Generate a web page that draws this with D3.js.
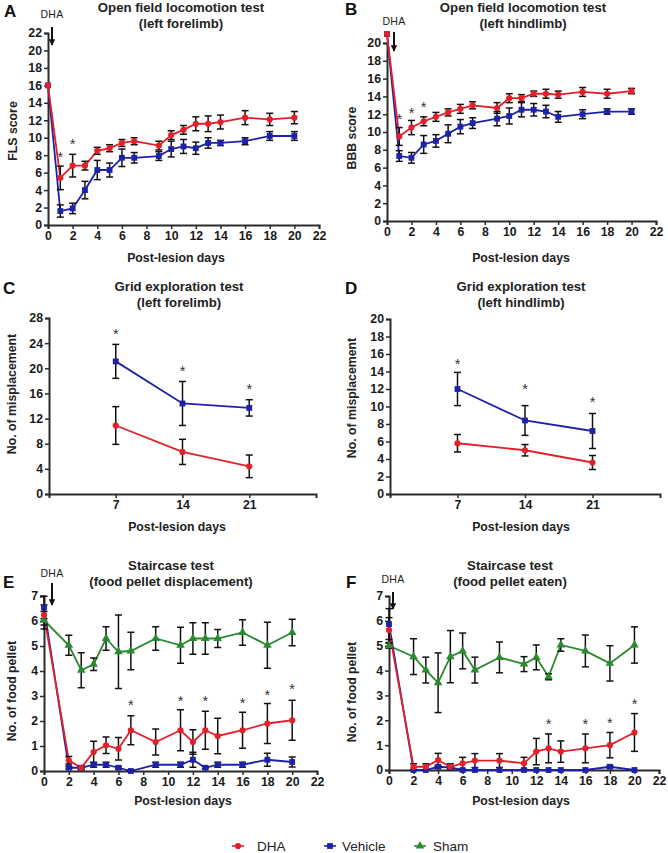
<!DOCTYPE html>
<html><head><meta charset="utf-8">
<script src="https://cdn.jsdelivr.net/npm/d3@7/dist/d3.min.js"></script>
<style>
body{margin:0;background:#fff;}
svg{display:block;font-family:"Liberation Sans",Arial,Helvetica,sans-serif;}
</style></head><body>
<svg id="chart" width="668" height="853"></svg>
<script>
// ---------------- DATA ----------------
const seriesNames = ["DHA", "Vehicle", "Sham"];

// Open field locomotion (A, B)
const daysOF = [0,1,2,3,4,5,6,7,9,10,11,12,13,14,16,18,20];
const A_dha    = [16,5.4,6.8,6.8,8.5,8.8,9.4,9.6,9.1,10.3,10.9,11.6,11.6,11.8,12.3,12.1,12.3];
const A_dhaErr = [0,1.35,1.3,0.5,0.4,0.4,0.4,0.4,0.5,0.5,0.5,0.8,0.9,0.8,0.8,0.7,0.7];
const A_veh    = [16,1.6,1.9,4.0,6.3,6.3,7.7,7.7,7.9,8.7,9.0,8.8,9.4,9.4,9.6,10.2,10.2];
const A_vehErr = [0,0.7,0.6,1.0,1.1,0.8,1.0,0.6,0.5,0.9,0.8,0.7,0.6,0.3,0.4,0.5,0.5];
const A_starDays = [1,2];
const A_starY    = [8.05,9.6];

const B_dha    = [21,9.5,10.5,11.2,11.7,12.2,12.6,13.0,12.7,13.8,13.8,14.3,14.3,14.2,14.5,14.3,14.6];
const B_dhaErr = [0,1.0,0.8,0.5,0.5,0.4,0.5,0.4,0.6,0.5,0.4,0.3,0.5,0.4,0.5,0.5,0.3];
const B_veh    = [21,7.3,7.1,8.6,9.0,9.8,10.6,11.0,11.5,11.8,12.5,12.5,12.3,11.7,12.0,12.3,12.3];
const B_vehErr = [0,0.6,0.6,1.0,0.7,1.0,0.8,0.6,0.8,0.9,0.8,0.7,0.7,0.6,0.5,0.3,0.3];
const B_starDays = [1,2,3];
const B_starY    = [11.7,12.45,13.1];

// Grid exploration (C, D)
const daysGrid = [7,14,21];
const C_dha    = [10.9,6.7,4.4];
const C_dhaErr = [3.0,2.0,1.8];
const C_veh    = [21.1,14.4,13.7];
const C_vehErr = [2.7,3.5,1.3];
const C_starY  = [25.9,19.9,17.1];

const D_dha    = [5.8,5.0,3.6];
const D_dhaErr = [1.0,0.65,0.8];
const D_veh    = [12.0,8.4,7.2];
const D_vehErr = [1.9,1.7,2.0];
const D_starY  = [15.2,12.3,10.8];

// Staircase (E, F)
const daysSC = [0,2,3,4,5,6,7,9,11,12,13,14,16,18,20];
const E_dha     = [6.24,0.43,0.13,0.76,1.03,0.89,1.63,1.16,1.63,1.16,1.63,1.4,1.63,1.9,2.03];
const E_dhaErr  = [0.4,0.15,0.08,0.43,0.33,0.45,0.58,0.52,0.82,0.49,0.76,0.71,0.72,0.8,0.8];
const E_veh     = [6.54,0.13,0.13,0.25,0.25,0.13,0.0,0.25,0.25,0.45,0.13,0.25,0.25,0.45,0.36];
const E_vehErr  = [0.45,0.05,0.05,0.1,0.1,0.05,0.03,0.1,0.1,0.3,0.05,0.1,0.1,0.26,0.2];
const E_sham    = [6.03,5.03,4.03,4.27,5.3,4.77,4.8,5.3,5.03,5.3,5.3,5.3,5.54,5.03,5.54];
const E_shamErr = [0.35,0.4,0.7,0.25,0.47,1.47,0.75,0.47,0.72,0.63,0.63,0.36,0.51,0.92,0.53];
const E_starDays = [7,11,13,16,18,20];
const E_starY    = [2.76,2.9,2.9,2.83,3.16,3.4];

const F_dha     = [5.63,0.13,0.13,0.4,0.13,0.27,0.38,0.38,0.27,0.74,0.87,0.74,0.87,1.0,1.51];
const F_dhaErr  = [0.5,0.12,0.12,0.27,0.12,0.24,0.28,0.28,0.24,0.53,0.58,0.43,0.58,0.51,0.76];
const F_veh     = [5.87,0,0,0.13,0.1,0,0,0,0,0,0,0,0,0.13,0];
const F_vehErr  = [0.62,0,0,0.05,0.03,0,0,0,0,0,0,0,0,0.05,0];
const F_sham    = [5.0,4.56,4.02,3.51,4.56,4.79,4.02,4.53,4.26,4.53,3.75,5.03,4.79,4.29,5.03];
const F_shamErr = [0.1,0.72,0.52,1.2,1.05,0.72,0.52,0.62,0.3,0.5,0.12,0.25,0.64,0.71,0.73];
const F_starDays = [13,16,18,20];
const F_starY    = [1.94,1.94,1.98,2.77];

// Tick labels
const xTicksDays = [0,2,4,6,8,10,12,14,16,18,20,22];
const yTicksA = [0,2,4,6,8,10,12,14,16,18,20,22];
const yTicksB = [0,2,4,6,8,10,12,14,16,18,20];
const yTicksC = [0,4,8,12,16,20,24,28];
const yTicksD = [0,2,4,6,8,10,12,14,16,18,20];
const yTicksEF = [0,1,2,3,4,5,6,7];
const xTicksGrid = [7,14,21];

// ---------------- STYLE ----------------
const colors = {DHA:"#e3202a", Vehicle:"#1d22a8", Sham:"#2a8a2f"};
const symbols = {DHA:d3.symbolCircle, Vehicle:d3.symbolSquare, Sham:d3.symbolTriangle};
const symSize = {DHA:30, Vehicle:34, Sham:32};
const axisColor = "#2b2b2b";

const svg = d3.select("#chart");

const panels = [
  {letter:"A", lx:4, ly:17, x0:48, x1:319, yb:225, yt:33, xDom:[0,22], yDom:[0,22],
   xTicks:xTicksDays, yTicks:yTicksA, days:daysOF,
   series:[["Vehicle",A_veh,A_vehErr],["DHA",A_dha,A_dhaErr]],
   starDays:A_starDays, starY:A_starY,
   title:["Open field locomotion test","(left forelimb)"], tx:181, ty:[12,28],
   ylab:"FLS score", ylx:13, yly:131, xlabX:176, xlabY:262,
   dha:{x:52, ty:18, a0:27, a1:45}},
  {letter:"B", lx:345, ly:15, x0:387, x1:656, yb:221, yt:43, xDom:[0,22], yDom:[0,20],
   xTicks:xTicksDays, yTicks:yTicksB, days:daysOF,
   series:[["Vehicle",B_veh,B_vehErr],["DHA",B_dha,B_dhaErr]],
   starDays:B_starDays, starY:B_starY,
   title:["Open field locomotion test","(left hindlimb)"], tx:523, ty:[12,28],
   ylab:"BBB score", ylx:352, yly:138, xlabX:521, xlabY:262,
   dha:{x:394, ty:25, a0:32, a1:51}},
  {letter:"C", lx:3, ly:294, x0:49, x1:316, yb:494, yt:318, xDom:[0,28], yDom:[0,28],
   xTicks:xTicksGrid, yTicks:yTicksC, days:daysGrid,
   series:[["Vehicle",C_veh,C_vehErr],["DHA",C_dha,C_dhaErr]],
   starDays:daysGrid, starY:C_starY,
   title:["Grid exploration test","(left forelimb)"], tx:179, ty:[291,307],
   ylab:"No. of misplacement", ylx:12, yly:394, xlabX:177, xlabY:531},
  {letter:"D", lx:345, ly:294, x0:390, x1:660, yb:494, yt:319, xDom:[0,28], yDom:[0,20],
   xTicks:xTicksGrid, yTicks:yTicksD, days:daysGrid,
   series:[["Vehicle",D_veh,D_vehErr],["DHA",D_dha,D_dhaErr]],
   starDays:daysGrid, starY:D_starY,
   title:["Grid exploration test","(left hindlimb)"], tx:521, ty:[291,307],
   ylab:"No. of misplacement", ylx:352, yly:398, xlabX:521, xlabY:531},
  {letter:"E", lx:3, ly:588, x0:44, x1:317, yb:771, yt:596, xDom:[0,22], yDom:[0,7],
   xTicks:xTicksDays, yTicks:yTicksEF, days:daysSC,
   series:[["Sham",E_sham,E_shamErr],["Vehicle",E_veh,E_vehErr],["DHA",E_dha,E_dhaErr]],
   starDays:E_starDays, starY:E_starY,
   title:["Staircase test","(food pellet displacement)"], tx:171, ty:[570,586],
   ylab:"No. of food pellet", ylx:12, yly:691, xlabX:183, xlabY:805,
   dha:{x:52, ty:577, a0:583, a1:605}},
  {letter:"F", lx:346, ly:588, x0:389, x1:659, yb:770, yt:596, xDom:[0,22], yDom:[0,7],
   xTicks:xTicksDays, yTicks:yTicksEF, days:daysSC,
   series:[["Sham",F_sham,F_shamErr],["Vehicle",F_veh,F_vehErr],["DHA",F_dha,F_dhaErr]],
   starDays:F_starDays, starY:F_starY,
   title:["Staircase test","(food pellet eaten)"], tx:510, ty:[570,586],
   ylab:"No. of food pellet", ylx:352, yly:692, xlabX:521, xlabY:805,
   dha:{x:393, ty:583, a0:592, a1:609}}
];

svg.append("defs").append("marker")
  .attr("id","arrowhead").attr("viewBox","0 0 10 10").attr("refX",9).attr("refY",5)
  .attr("markerWidth",3.2).attr("markerHeight",3.2).attr("orient","auto")
  .append("path").attr("d","M0,0 L10,5 L0,10 z").attr("fill","#111");

panels.forEach(p => {
  const g = svg.append("g");
  const x = d3.scaleLinear().domain(p.xDom).range([p.x0, p.x1]);
  const y = d3.scaleLinear().domain(p.yDom).range([p.yb, p.yt]);

  // Letter
  g.append("text").attr("x",p.lx).attr("y",p.ly).text(p.letter)
    .attr("font-size",17).attr("font-weight","bold").attr("fill","#111");
  // Title
  p.title.forEach((t,i) => g.append("text").attr("x",p.tx).attr("y",p.ty[i])
    .attr("text-anchor","middle").attr("font-size",13.2).attr("font-weight","bold")
    .attr("fill","#222").text(t));

  // Axes
  const xa = g.append("g").attr("transform",`translate(0,${p.yb})`)
    .call(d3.axisBottom(x).tickValues(p.xTicks).tickFormat(d3.format("d")).tickSize(4).tickPadding(2));
  const ya = g.append("g").attr("transform",`translate(${p.x0},0)`)
    .call(d3.axisLeft(y).tickValues(p.yTicks).tickFormat(d3.format("d")).tickSize(4).tickPadding(2));
  [xa,ya].forEach(a => {
    a.select(".domain").attr("stroke",axisColor).attr("stroke-width",2);
    a.selectAll(".tick line").attr("stroke",axisColor).attr("stroke-width",1.5);
    a.selectAll(".tick text").attr("font-size",12.3).attr("font-weight","bold").attr("fill","#1a1a1a")
      .attr("font-family","'Liberation Sans',Arial,sans-serif");
  });
  // x axis label
  g.append("text").attr("x",p.xlabX).attr("y",p.xlabY).attr("text-anchor","middle")
    .attr("font-size",12.3).attr("font-weight","bold").attr("fill","#222").text("Post-lesion days");
  // y axis label
  g.append("text").attr("transform",`translate(${p.ylx},${p.yly}) rotate(-90)`)
    .attr("text-anchor","middle").attr("dy","0.35em")
    .attr("font-size",12.3).attr("font-weight","bold").attr("fill","#222").text(p.ylab);

  // lines
  p.series.forEach(([name, vals]) => {
    const pts = p.days.map((d,i) => [d, vals[i]]);
    g.append("path").datum(pts)
      .attr("d", d3.line().x(d=>x(d[0])).y(d=>y(d[1])))
      .attr("fill","none").attr("stroke",colors[name]).attr("stroke-width",1.8);
  });
  // error bars
  p.series.forEach(([name, vals, errs]) => {
    p.days.forEach((d,i) => {
      const e = errs[i];
      if (!e) return;
      const cx = x(d), ya1 = y(vals[i]+e), ya2 = y(Math.max(0, vals[i]-e));
      const eb = g.append("g").attr("stroke","#111").attr("stroke-width",1.5);
      eb.append("line").attr("x1",cx).attr("x2",cx).attr("y1",ya1).attr("y2",ya2);
      eb.append("line").attr("x1",cx-3.5).attr("x2",cx+3.5).attr("y1",ya1).attr("y2",ya1);
      eb.append("line").attr("x1",cx-3.5).attr("x2",cx+3.5).attr("y1",ya2).attr("y2",ya2);
    });
  });
  // markers
  p.series.forEach(([name, vals]) => {
    g.selectAll(null).data(p.days.map((d,i)=>[d,vals[i]])).enter().append("path")
      .attr("d", d3.symbol().type(symbols[name]).size(symSize[name]))
      .attr("transform", d => `translate(${x(d[0])},${y(d[1])})`)
      .attr("fill", colors[name]);
  });
  // stars
  p.starDays.forEach((d,i) => {
    g.append("text").attr("x",x(d)).attr("y",y(p.starY[i])+7.5).attr("text-anchor","middle")
      .attr("font-size",14.5).attr("fill","#333").text("*");
  });
  // DHA annotation
  if (p.dha) {
    g.append("text").attr("x",p.dha.x).attr("y",p.dha.ty).attr("text-anchor","middle")
      .attr("font-size",10.5).attr("fill","#222").attr("letter-spacing","0.3").text("DHA");
    g.append("line").attr("x1",p.dha.x).attr("x2",p.dha.x).attr("y1",p.dha.a0).attr("y2",p.dha.a1)
      .attr("stroke","#111").attr("stroke-width",2).attr("marker-end","url(#arrowhead)");
  }
});

// Legend
const legendX = {DHA:[238,257], Vehicle:[330,342], Sham:[420,433]};
const legY = 846;
seriesNames.forEach(name => {
  const [mx, tx] = legendX[name];
  svg.append("line").attr("x1",mx-6).attr("x2",mx+6).attr("y1",legY).attr("y2",legY)
    .attr("stroke",colors[name]).attr("stroke-width",1.6);
  svg.append("path").attr("d", d3.symbol().type(symbols[name]).size(symSize[name]))
    .attr("transform",`translate(${mx},${legY})`).attr("fill",colors[name]);
  svg.append("text").attr("x",tx).attr("y",legY+5).attr("font-size",13.5)
    .attr("fill","#222").text(name);
});
</script>
</body></html>
